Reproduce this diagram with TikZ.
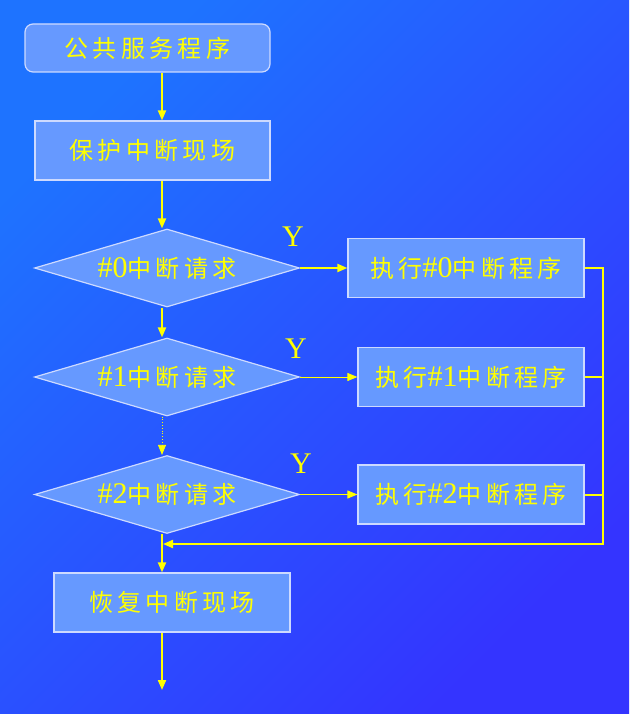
\documentclass[tikz,border=0pt]{standalone}
\usepackage{fontspec}
\setmainfont{Liberation Serif}
\newfontfamily\cjk[LetterSpace=18]{Noto Sans CJK SC}
\usetikzlibrary{shapes.geometric, arrows.meta}
\definecolor{bgleft}{RGB}{30,115,255}
\definecolor{bgright}{RGB}{52,52,255}
\definecolor{boxfill}{RGB}{102,153,255}
\definecolor{boxline}{RGB}{205,218,255}
\definecolor{flow}{RGB}{255,255,0}
\newcommand{\zh}[1]{{\cjk\fontsize{24}{28}\selectfont #1}}
\tikzset{
    process/.style={rectangle, minimum width=236pt, minimum height=59pt, inner sep=0pt, text centered, draw=boxline, line width=1.2pt, fill=boxfill, text=flow, font=\fontsize{30}{32}\selectfont},
    decision/.style={diamond, aspect=3.4, minimum width=265pt, minimum height=78pt, inner sep=0pt, text centered, draw=boxline, line width=1.2pt, fill=boxfill, text=flow, font=\fontsize{30}{32}\selectfont},
    arrow/.style={draw=flow, line width=2pt, -{Triangle[length=10pt,width=8pt]}},
    thinarrow/.style={arrow, line width=0.9pt},
    flowline/.style={draw=flow, line width=2pt},
    ylabel/.style={text=flow, font=\fontsize{30}{32}\selectfont}
}
\begin{document}
\begin{tikzpicture}[x=1pt, y=-1pt]
        \shade [top color=bgleft, bottom color=bgright, shading angle=45] (0,0) rectangle (629,714);

        \node (service) [process, rounded corners=8pt, minimum width=245pt, minimum height=48pt] at (147.5,48) {\zh{公共服务程序}};
        \node (save) [process, minimum width=235pt] at (152.5,150.5) {\zh{保护中断现场}};
        \node (req0) [decision] at (167,268) {\#0\zh{中断请求}};
        \node (req1) [decision] at (167,377) {\#1\zh{中断请求}};
        \node (req2) [decision] at (167,494.5) {\#2\zh{中断请求}};
        \node (isr0) [process, minimum width=236pt] at (466,268) {\zh{执行}\#0\zh{中断程序}};
        \node (isr1) [process, minimum width=226pt] at (471,377) {\zh{执行}\#1\zh{中断程序}};
        \node (isr2) [process, minimum width=226pt] at (471,494.5) {\zh{执行}\#2\zh{中断程序}};
        \node (restore) [process, minimum width=236pt] at (172,602.5) {\zh{恢复中断现场}};

        \node (yes0) [ylabel] at (293,237) {Y};
        \node (yes1) [ylabel] at (296,349) {Y};
        \node (yes2) [ylabel] at (301,464) {Y};

        \coordinate (spine) at (162,0);
        \coordinate (bus) at (603,0);
        \coordinate (merge) at (163,544);
        \coordinate (exit) at (162,690);

        \draw [arrow] (service.south -| spine) -- (save.north -| spine);
        \draw [arrow] (save.south -| spine) -- (req0.north -| spine);
        \draw [arrow] (req0.south -| spine) -- (req1.north -| spine);
        \draw [arrow, line width=0.8pt, dotted] (req1.south -| spine) -- (req2.north -| spine);
        \draw [arrow] (req2.south -| spine) -- (restore.north -| spine);
        \draw [arrow] (restore.south -| spine) -- (exit);

        \draw [arrow] (req0.east) -- (isr0.west);
        \draw [thinarrow] (req1.east) -- (isr1.west);
        \draw [thinarrow] (req2.east) -- (isr2.west);

        \draw [arrow] (isr0.east) -| (bus |- merge) -- (merge);
        \draw [flowline] (isr1.east) -- (isr1.east -| bus);
        \draw [flowline] (isr2.east) -- (isr2.east -| bus);
    \end{tikzpicture}
\end{document}
